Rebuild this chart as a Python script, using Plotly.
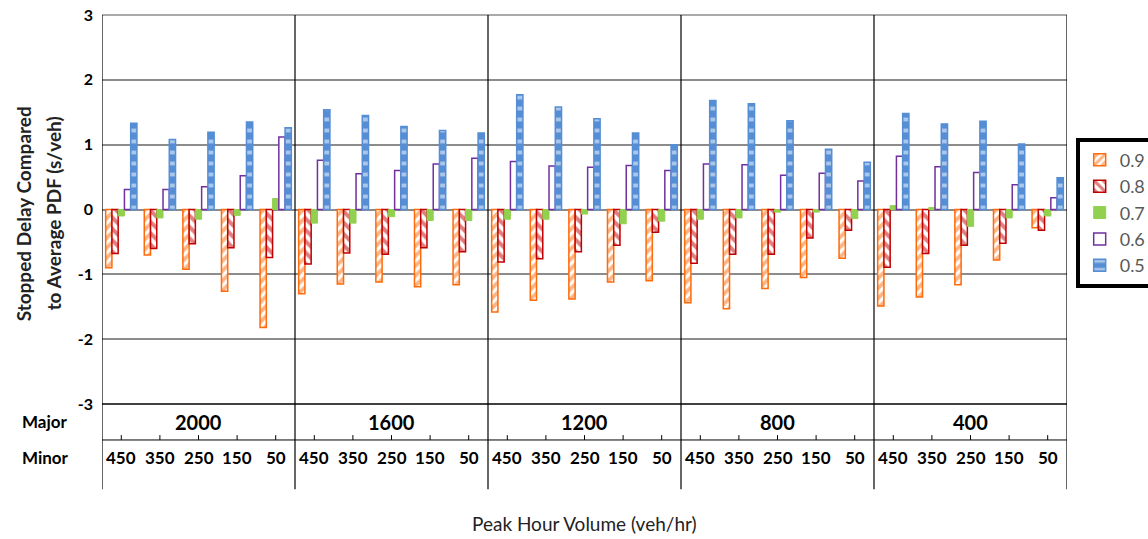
import plotly.graph_objects as go

major = ["2000", "1600", "1200", "800", "400"]
minor = ["450", "350", "250", "150", "50"]
series_names = ["0.9", "0.8", "0.7", "0.6", "0.5"]

v09 = [-0.90, -0.70, -0.92, -1.26, -1.82,
       -1.30, -1.15, -1.12, -1.19, -1.16,
       -1.58, -1.40, -1.38, -1.12, -1.10,
       -1.44, -1.53, -1.22, -1.05, -0.75,
       -1.49, -1.35, -1.16, -0.78, -0.28]
v08 = [-0.68, -0.60, -0.53, -0.59, -0.74,
       -0.84, -0.67, -0.69, -0.59, -0.65,
       -0.81, -0.76, -0.65, -0.55, -0.35,
       -0.83, -0.69, -0.69, -0.44, -0.32,
       -0.89, -0.68, -0.55, -0.52, -0.32]
v07 = [-0.10, -0.13, -0.15, -0.09, 0.17,
       -0.21, -0.21, -0.11, -0.17, -0.17,
       -0.15, -0.15, -0.07, -0.22, -0.18,
       -0.15, -0.13, -0.04, -0.04, -0.14,
       0.06, 0.03, -0.26, -0.13, -0.10]
v06 = [0.31, 0.31, 0.35, 0.52, 1.12,
       0.76, 0.55, 0.60, 0.70, 0.79,
       0.74, 0.67, 0.65, 0.68, 0.60,
       0.70, 0.69, 0.53, 0.56, 0.44,
       0.82, 0.66, 0.57, 0.38, 0.18]
v05 = [1.33, 1.08, 1.19, 1.35, 1.26,
       1.54, 1.45, 1.28, 1.22, 1.18,
       1.77, 1.58, 1.40, 1.18, 1.00,
       1.68, 1.63, 1.37, 0.93, 0.73,
       1.48, 1.32, 1.36, 1.01, 0.49]
yticks = [-3, -2, -1, 0, 1, 2, 3]

cats = [f"{M}|{m}" for M in major for m in minor]

FONT = "Lato"
ORANGE = "#FF6A0A"
RED = "#C00000"
GREEN = "#92D050"
PURPLE = "#7030A0"
BLUE = "#558ED5"

fig = go.Figure()
fig.add_trace(go.Bar(
    x=cats, y=v09, name=series_names[0],
    marker=dict(color="white", line=dict(color=ORANGE, width=1.5),
                pattern=dict(shape="/", fgcolor=ORANGE, bgcolor="white", size=7, solidity=0.55))))
fig.add_trace(go.Bar(
    x=cats, y=v08, name=series_names[1],
    marker=dict(color="white", line=dict(color=RED, width=1.5),
                pattern=dict(shape="\\", fgcolor=RED, bgcolor="white", size=8, solidity=0.5))))
fig.add_trace(go.Bar(
    x=cats, y=v07, name=series_names[2],
    marker=dict(color=GREEN, line=dict(color=GREEN, width=1))))
fig.add_trace(go.Bar(
    x=cats, y=v06, name=series_names[3],
    marker=dict(color="white", line=dict(color=PURPLE, width=1.5))))
fig.add_trace(go.Bar(
    x=cats, y=v05, name=series_names[4],
    marker=dict(color=BLUE, line=dict(color=BLUE, width=1.5),
                pattern=dict(shape="-", fgcolor="white", bgcolor=BLUE, size=11, solidity=0.35))))

shapes = []
# top border of plot (gray, like the gridlines)
shapes.append(dict(type="line", xref="paper", yref="paper", x0=0, x1=1, y0=1, y1=1,
                   line=dict(color="#8C8C8C", width=1.5)))
# left / right / divider vertical lines (plot + table)
for k in range(len(major) + 1):
    xpos = k * len(minor) - 0.5
    shapes.append(dict(type="line", xref="x", yref="paper", x0=xpos, x1=xpos,
                       y0=-0.219, y1=1, line=dict(color="black", width=1.2)))
# table top line (bottom of plot) and middle line
shapes.append(dict(type="line", xref="paper", yref="paper", x0=0, x1=1, y0=0, y1=0,
                   line=dict(color="black", width=1.5)))
shapes.append(dict(type="line", xref="paper", yref="paper", x0=0, x1=1, y0=-0.0925, y1=-0.0925,
                   line=dict(color="black", width=1)))
# minor ticks
for c in cats:
    shapes.append(dict(type="line", xref="x", yref="paper", x0=c, x1=c,
                       y0=-0.0925, y1=-0.08, line=dict(color="black", width=1)))

annotations = []
for i, M in enumerate(major):
    annotations.append(dict(x=i * len(minor) + 2, y=-0.045, xref="x", yref="paper",
                            xanchor="center", yanchor="middle",
                            text=f"<b>{M}</b>", showarrow=False,
                            font=dict(family=FONT, size=20, color="black")))
for c in cats:
    annotations.append(dict(x=c, y=-0.137, xref="x", yref="paper",
                            xanchor="center", yanchor="middle",
                            text=f"<b>{c.split('|')[1]}</b>", showarrow=False,
                            font=dict(family=FONT, size=17, color="black")))
annotations.append(dict(x=-0.085, y=-0.045, xref="paper", yref="paper", xanchor="left",
                        yanchor="middle", text="<b>Major</b>", showarrow=False,
                        font=dict(family=FONT, size=17, color="black")))
annotations.append(dict(x=-0.085, y=-0.137, xref="paper", yref="paper", xanchor="left",
                        yanchor="middle", text="<b>Minor</b>", showarrow=False,
                        font=dict(family=FONT, size=17, color="black")))
annotations.append(dict(x=0.5, y=-0.308, xref="paper", yref="paper",
                        xanchor="center", yanchor="middle",
                        text="Peak Hour Volume (veh/hr)", showarrow=False,
                        font=dict(family=FONT, size=19, color="#222222")))
annotations.append(dict(x=-0.0819, y=0.49, xref="paper", yref="paper", textangle=-90,
                        xanchor="center", yanchor="middle",
                        text="<b>Stopped Delay Compared</b>", showarrow=False,
                        font=dict(family=FONT, size=19, color="#222222")))
annotations.append(dict(x=-0.0508, y=0.49, xref="paper", yref="paper", textangle=-90,
                        xanchor="center", yanchor="middle",
                        text="<b>to Average PDF (s/veh)</b>", showarrow=False,
                        font=dict(family=FONT, size=19, color="#222222")))

fig.update_layout(
    width=1148, height=539,
    margin=dict(l=102, r=81, t=15, b=135, autoexpand=False),
    paper_bgcolor="white", plot_bgcolor="white",
    barmode="group", bargap=0.19, bargroupgap=0,
    showlegend=True,
    legend=dict(x=1.009, y=0.685, xanchor="left", yanchor="top",
                bordercolor="black", borderwidth=4, bgcolor="white",
                font=dict(family=FONT, size=18, color="#595959"),
                traceorder="normal", itemwidth=30, tracegroupgap=0),
    xaxis=dict(type="category", categoryorder="array", categoryarray=cats,
               range=[-0.5, len(cats) - 0.5], showticklabels=False, showgrid=False,
               zeroline=False, showline=False, ticks="", automargin=False),
    yaxis=dict(range=[-3, 3], tickvals=yticks, ticktext=[f"<b>{t}</b>" for t in yticks],
               showgrid=True, gridcolor="#8C8C8C", gridwidth=1.5,
               zeroline=True, zerolinecolor="#8C8C8C", zerolinewidth=1.5,
               showline=False, ticks="", ticklabelstandoff=8, automargin=False,
               ticklabeloverflow="allow",
               tickfont=dict(family=FONT, size=16, color="black")),
    shapes=shapes, annotations=annotations,
)

# remove the page's default 8px body margin so the 1148x539 figure fills the window exactly
fig.write_html("out.html", config={"displayModeBar": False},
               post_script="document.body.style.margin='0px';")
